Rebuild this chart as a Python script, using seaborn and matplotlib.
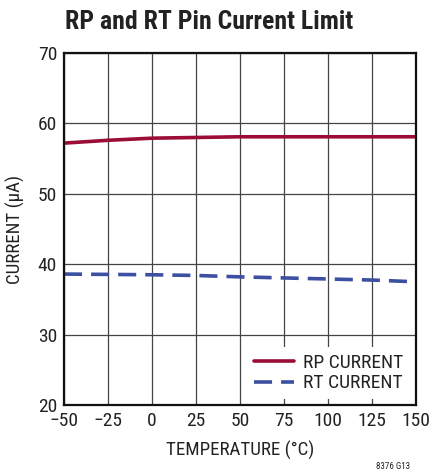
import matplotlib
matplotlib.use("Agg")
import matplotlib.pyplot as plt
import seaborn as sns
import pandas as pd
from matplotlib.lines import Line2D

temps = [-50, -25, 0, 25, 50, 75, 100, 125, 150]
rp_current = [57.2, 57.6, 57.9, 58.0, 58.1, 58.1, 58.1, 58.1, 58.1]
rt_current = [38.6, 38.55, 38.5, 38.4, 38.2, 38.05, 37.9, 37.75, 37.5]
x_ticks = [-50, -25, 0, 25, 50, 75, 100, 125, 150]
x_tick_labels = ["\u221250", "\u221225", "0", "25", "50", "75", "100", "125", "150"]
y_ticks = [20, 30, 40, 50, 60, 70]

sns.set_style("white")
plt.rcParams['font.family'] = ['Roboto Condensed', 'DejaVu Sans']

df = pd.DataFrame({"T": temps * 2,
                   "I": rp_current + rt_current,
                   "S": ["RP CURRENT"] * len(temps) + ["RT CURRENT"] * len(temps)})

fig = plt.figure(figsize=(4.3, 4.73), dpi=100)
ax = fig.add_axes([64/430, 68/473, 352/430, 352/473])

sns.lineplot(data=df, x="T", y="I", hue="S", style="S",
             palette={"RP CURRENT": "#9b0d35", "RT CURRENT": "#3c4fa0"},
             dashes={"RP CURRENT": "", "RT CURRENT": (5, 2.5)},
             linewidth=2.6, ax=ax, legend=False)

ax.set_xlim(-50, 150)
ax.set_ylim(20, 70)
ax.set_xticks(x_ticks)
ax.set_xticklabels(x_tick_labels)
ax.set_yticks(y_ticks)
ax.tick_params(axis='both', labelsize=14, length=0, colors='#222222')
ax.tick_params(axis='x', pad=5)
ax.tick_params(axis='y', pad=5)
ax.grid(True, color='#444444', linewidth=0.9)
ax.set_axisbelow(True)
for s in ax.spines.values():
    s.set_color('#111111')
    s.set_linewidth(1.6)

ax.set_xlabel("TEMPERATURE (\u00b0C)", fontsize=13.6, color='#222222', labelpad=8)
ax.set_ylabel("CURRENT (\u00b5A)", fontsize=13.6, color='#222222', labelpad=9)

handles = [Line2D([0], [0], color="#9b0d35", lw=2.6),
           Line2D([0], [0], color="#3c4fa0", lw=2.6, dashes=(5, 2.5))]
leg = ax.legend(handles, ["RP CURRENT", "RT CURRENT"], loc="lower right",
                bbox_to_anchor=(1.0, 0.0), frameon=True, fontsize=14,
                handlelength=2.1, handletextpad=0.45, borderaxespad=0.3,
                borderpad=0.35, labelspacing=0.12, fancybox=False, framealpha=1.0)
leg.get_frame().set_edgecolor('none')
leg.get_frame().set_facecolor('white')
for t in leg.get_texts():
    t.set_color('#222222')

fig.text(65/430, 1 - 22/473, "RP and RT Pin Current Limit", fontsize=18.5,
         fontweight='bold', color='#222222', ha='left', va='center')
fig.text(410/430, 1 - 466/473, "8376 G13", fontsize=6.5, color='#222222',
         ha='right', va='center')

fig.savefig("out.png", dpi=100)
